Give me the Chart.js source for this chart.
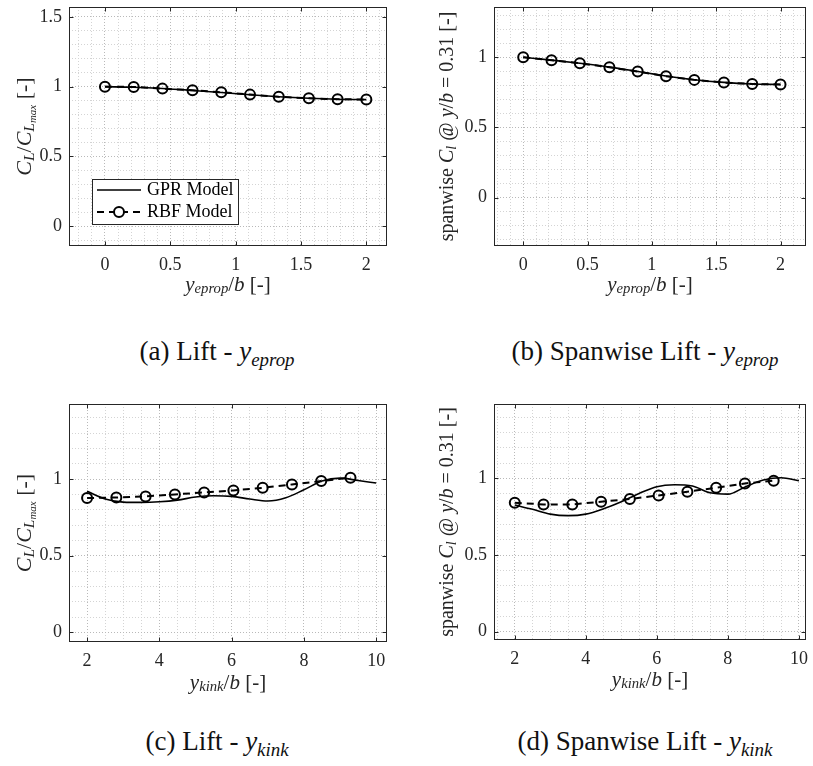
<!DOCTYPE html>
<html>
<head>
<meta charset="utf-8">
<script src="https://cdn.jsdelivr.net/npm/chart.js@4.4.0/dist/chart.umd.min.js"></script>
<style>
    body { margin: 0; background: #fff; }
    #wrap { position: relative; width: 813px; height: 766px; overflow: hidden; font-family: "Liberation Serif", "Times New Roman", serif; }
    canvas { position: absolute; }
    .cap { position: absolute; font-size: 27px; line-height: 30px; color: #111; white-space: nowrap; transform: translateX(-50%); }
    .cap sub { font-size: 0.7em; vertical-align: -0.3em; line-height: 0; }
</style>
</head>
<body>
<div id="wrap">
    <canvas id="chartA" width="400" height="300" style="left:0;top:0"></canvas>
    <canvas id="chartB" width="413" height="300" style="left:400px;top:0"></canvas>
    <canvas id="chartC" width="400" height="310" style="left:0;top:390px"></canvas>
    <canvas id="chartD" width="413" height="310" style="left:400px;top:390px"></canvas>
    <div class="cap" style="left:217px;top:336px">(a) Lift - <i>y<sub>eprop</sub></i></div>
    <div class="cap" style="left:645px;top:336px">(b) Spanwise Lift - <i>y<sub>eprop</sub></i></div>
    <div class="cap" style="left:217px;top:726px">(c) Lift - <i>y<sub>kink</sub></i></div>
    <div class="cap" style="left:645px;top:726px">(d) Spanwise Lift - <i>y<sub>kink</sub></i></div>
</div>
<script>
(function() {
    'use strict';

    // ---- data ----
    var xEprop = [0, 0.22, 0.44, 0.67, 0.89, 1.11, 1.33, 1.56, 1.78, 2];
    var liftEpropRbf = [1.0, 0.998, 0.986, 0.974, 0.96, 0.943, 0.927, 0.917, 0.91, 0.908];
    var liftEpropGpr = [1.0, 0.996, 0.987, 0.973, 0.958, 0.942, 0.928, 0.917, 0.91, 0.907];
    var spanEpropRbf = [1.0, 0.979, 0.957, 0.929, 0.898, 0.865, 0.839, 0.82, 0.81, 0.806];
    var spanEpropGpr = [1.0, 0.98, 0.957, 0.93, 0.899, 0.867, 0.84, 0.821, 0.81, 0.806];

    var xKinkRbf = [2, 2.81, 3.62, 4.43, 5.24, 6.05, 6.86, 7.67, 8.48, 9.29];
    var liftKinkRbf = [0.876, 0.88, 0.887, 0.9, 0.913, 0.926, 0.943, 0.965, 0.987, 1.009];
    var spanKinkRbf = [0.841, 0.83, 0.83, 0.848, 0.865, 0.889, 0.913, 0.939, 0.967, 0.985];

    var xKinkGpr = [2, 2.5, 3, 3.5, 4, 4.5, 5, 5.5, 6, 6.5, 7, 7.5, 8, 8.5, 9, 9.5, 10];
    var liftKinkGpr = [0.92, 0.87, 0.85, 0.848, 0.852, 0.863, 0.883, 0.891, 0.887, 0.87, 0.857, 0.878, 0.93, 0.987, 1.006, 0.991, 0.974];
    var spanKinkGpr = [0.826, 0.798, 0.767, 0.757, 0.767, 0.802, 0.848, 0.902, 0.946, 0.958, 0.95, 0.906, 0.897, 0.946, 0.989, 1.004, 0.985];

    // tick labels
    var xTicksEprop = [0, 0.5, 1, 1.5, 2];
    var xTicksKink = [2, 4, 6, 8, 10];
    var yTicksLiftEprop = [0, 0.5, 1, 1.5];
    var yTicksOther = [0, 0.5, 1];

    var FONT = '"Liberation Serif", "Times New Roman", serif';
    var AXIS_COLOR = '#262626';

    // Axis titles as [text, style] parts; style: r roman, i italic, trailing s = subscript level
    var xTitleEprop = [['y', 'i'], ['eprop', 'is'], ['/', 'r'], ['b', 'i'], [' [-]', 'r']];
    var xTitleKink = [['y', 'i'], ['kink', 'is'], ['/', 'r'], ['b', 'i'], [' [-]', 'r']];
    var yTitleLift = [['C', 'i'], ['L', 'is'], ['/', 'r'], ['C', 'i'], ['L', 'is'], ['max', 'iss'], [' [-]', 'r']];
    var yTitleSpan = [['spanwise ', 'r'], ['C', 'i'], ['l', 'is'], [' @ ', 'r'], ['y', 'i'], ['/', 'r'], ['b', 'i'], [' = 0.31', 'r'], [' [-]', 'r']];

    function toPoints(xs, ys) {
        return xs.map(function(x, i) { return { x: x, y: ys[i] }; });
    }

    function gridValues(min, max, step) {
        var out = [];
        for (var k = Math.ceil(min / step - 1e-9); k * step < max - 1e-9; k++) {
            var v = Math.round(k * step * 1000) / 1000;
            if (v > min + 1e-9) {
                out.push(v);
            }
        }
        return out;
    }

    function inList(list, v) {
        return list.some(function(t) { return Math.abs(t - v) < 1e-6; });
    }

    function richParts(ctx, parts, size) {
        return parts.map(function(p) {
            var level = (p[1].match(/s/g) || []).length;
            var fs = level === 2 ? size * 0.5 : level === 1 ? size * 0.7 : size;
            var font = (p[1].charAt(0) === 'i' ? 'italic ' : '') + fs + 'px ' + FONT;
            ctx.font = font;
            return { text: p[0], font: font, w: ctx.measureText(p[0]).width, dy: level === 2 ? size * 0.38 : level === 1 ? size * 0.22 : 0 };
        });
    }

    function drawRich(ctx, parts, size, cx, cy, rot) {
        ctx.save();
        ctx.translate(cx, cy);
        if (rot) {
            ctx.rotate(rot);
        }
        var items = richParts(ctx, parts, size);
        var total = items.reduce(function(s, it) { return s + it.w; }, 0);
        var x = -total / 2;
        ctx.fillStyle = AXIS_COLOR;
        ctx.textBaseline = 'middle';
        ctx.textAlign = 'left';
        items.forEach(function(it) {
            ctx.font = it.font;
            ctx.fillText(it.text, x, it.dy);
            x += it.w;
        });
        ctx.restore();
    }

    // Box, inward ticks, axis titles and the legend, MATLAB style
    var matlabAxes = {
        id: 'matlabAxes',
        afterDraw: function(chart, args, opts) {
            var ctx = chart.ctx;
            var a = chart.chartArea;
            var xs = chart.scales.x;
            var ys = chart.scales.y;
            var L = Math.round(a.left) + 0.5, R = Math.round(a.right) - 0.5;
            var T = Math.round(a.top) + 0.5, B = Math.round(a.bottom) - 0.5;

            ctx.save();
            ctx.strokeStyle = AXIS_COLOR;
            ctx.lineWidth = 1;
            ctx.strokeRect(L, T, R - L, B - T);

            ctx.beginPath();
            opts.xMajor.forEach(function(v) {
                var px = Math.round(xs.getPixelForValue(v)) + 0.5;
                ctx.moveTo(px, B); ctx.lineTo(px, B - 4);
                ctx.moveTo(px, T); ctx.lineTo(px, T + 4);
            });
            opts.yMajor.forEach(function(v) {
                var py = Math.round(ys.getPixelForValue(v)) + 0.5;
                ctx.moveTo(L, py); ctx.lineTo(L + 4, py);
                ctx.moveTo(R, py); ctx.lineTo(R - 4, py);
            });
            ctx.stroke();

            drawRich(ctx, opts.xTitle, 21, (a.left + a.right) / 2, a.bottom + opts.xTitleDy, 0);
            drawRich(ctx, opts.yTitle, opts.yTitleSize, opts.yTitleX, (a.top + a.bottom) / 2, -Math.PI / 2);

            if (opts.legend) {
                var lx = a.left + 23, ly = a.top + 172, lw = 146, lh = 45;
                ctx.fillStyle = '#fff';
                ctx.fillRect(lx, ly, lw, lh);
                ctx.strokeStyle = AXIS_COLOR;
                ctx.strokeRect(Math.round(lx) + 0.5, Math.round(ly) + 0.5, lw, lh);

                ctx.strokeStyle = '#000';
                ctx.lineWidth = 1.6;
                ctx.beginPath();
                ctx.moveTo(lx + 5, ly + 11); ctx.lineTo(lx + 49, ly + 11);
                ctx.stroke();

                ctx.lineWidth = 2;
                ctx.setLineDash([7, 5]);
                ctx.beginPath();
                ctx.moveTo(lx + 5, ly + 33); ctx.lineTo(lx + 49, ly + 33);
                ctx.stroke();
                ctx.setLineDash([]);
                ctx.beginPath();
                ctx.arc(lx + 27, ly + 33, 5, 0, Math.PI * 2);
                ctx.fillStyle = '#fff';
                ctx.fill();
                ctx.stroke();

                ctx.fillStyle = '#000';
                ctx.font = '18px ' + FONT;
                ctx.textBaseline = 'middle';
                ctx.fillText('GPR Model', lx + 55, ly + 11);
                ctx.fillText('RBF Model', lx + 55, ly + 33);
            }
            ctx.restore();
        }
    };

    function axisScale(cfg) {
        return {
            type: 'linear',
            min: cfg.min,
            max: cfg.max,
            bounds: 'data',
            afterBuildTicks: function(scale) {
                scale.ticks = gridValues(cfg.min, cfg.max, cfg.step).map(function(v) { return { value: v }; });
            },
            afterFit: function(scale) {
                if (cfg.width) {
                    scale.width = cfg.width;
                    scale.paddingTop = 0;
                    scale.paddingBottom = 0;
                } else {
                    scale.height = cfg.height;
                    scale.paddingLeft = 0;
                    scale.paddingRight = 0;
                }
            },
            grid: {
                drawTicks: false,
                lineWidth: 1,
                color: function(c) {
                    return c.tick && inList(cfg.major, c.tick.value) ? '#b9b9b9' : '#d4d4d4';
                }
            },
            border: { display: false, dash: [1, 2] },
            ticks: {
                autoSkip: false,
                minRotation: 0,
                maxRotation: 0,
                padding: cfg.pad,
                color: AXIS_COLOR,
                font: { family: FONT, size: 18 },
                callback: function(v) {
                    return inList(cfg.major, v) ? String(Math.round(v * 10) / 10) : '';
                }
            }
        };
    }

    function makeChart(id, cfg) {
        return new Chart(document.getElementById(id), {
            type: 'line',
            data: {
                datasets: [
                    {
                        label: 'RBF Model',
                        data: toPoints(cfg.rbfX, cfg.rbfY),
                        order: 0,
                        borderColor: '#000',
                        borderWidth: 2,
                        borderDash: [7, 5],
                        pointRadius: 5,
                        pointBorderWidth: 2,
                        pointBorderColor: '#000',
                        pointBackgroundColor: 'rgba(255,255,255,0)',
                        tension: 0
                    },
                    {
                        label: 'GPR Model',
                        data: toPoints(cfg.gprX, cfg.gprY),
                        order: 1,
                        borderColor: '#000',
                        borderWidth: 1.6,
                        pointRadius: 0,
                        cubicInterpolationMode: 'monotone'
                    }
                ]
            },
            options: {
                responsive: false,
                devicePixelRatio: 1,
                animation: false,
                events: [],
                layout: { padding: { left: 0, top: cfg.padTop, right: cfg.padRight, bottom: 0 } },
                scales: {
                    x: axisScale({ min: cfg.xMin, max: cfg.xMax, step: cfg.xStep, major: cfg.xMajor, height: cfg.xh, pad: 8 }),
                    y: axisScale({ min: cfg.yMin, max: cfg.yMax, step: 0.1, major: cfg.yMajor, width: cfg.yw, pad: 7 })
                },
                plugins: {
                    legend: { display: false },
                    tooltip: { enabled: false },
                    matlabAxes: {
                        xMajor: cfg.xMajor,
                        yMajor: cfg.yMajor,
                        xTitle: cfg.xTitle,
                        yTitle: cfg.yTitle,
                        yTitleSize: cfg.yTitleSize,
                        xTitleDy: cfg.xTitleDy,
                        yTitleX: cfg.yTitleX,
                        legend: !!cfg.legend
                    }
                }
            },
            plugins: [matlabAxes]
        });
    }

    makeChart('chartA', {
        rbfX: xEprop, rbfY: liftEpropRbf, gprX: xEprop, gprY: liftEpropGpr,
        xMin: -0.275, xMax: 2.158, xStep: 0.1, xMajor: xTicksEprop,
        yMin: -0.142, yMax: 1.571, yMajor: yTicksLiftEprop,
        padTop: 5, padRight: 13, yw: 69, xh: 54,
        xTitle: xTitleEprop, yTitle: yTitleLift, yTitleSize: 22, xTitleDy: 39, yTitleX: 25, legend: true
    });

    makeChart('chartB', {
        rbfX: xEprop, rbfY: spanEpropRbf, gprX: xEprop, gprY: spanEpropGpr,
        xMin: -0.227, xMax: 2.198, xStep: 0.1, xMajor: xTicksEprop,
        yMin: -0.344, yMax: 1.358, yMajor: yTicksOther,
        padTop: 7, padRight: 1, yw: 94, xh: 54,
        xTitle: xTitleEprop, yTitle: yTitleSpan, yTitleSize: 20, xTitleDy: 39, yTitleX: 48
    });

    makeChart('chartC', {
        rbfX: xKinkRbf, rbfY: liftKinkRbf, gprX: xKinkGpr, gprY: liftKinkGpr,
        xMin: 1.5, xMax: 10.3, xStep: 0.5, xMajor: xTicksKink,
        yMin: -0.063, yMax: 1.49, yMajor: yTicksOther,
        padTop: 14, padRight: 13, yw: 69, xh: 58,
        xTitle: xTitleKink, yTitle: yTitleLift, yTitleSize: 22, xTitleDy: 41, yTitleX: 25
    });

    makeChart('chartD', {
        rbfX: xKinkRbf, rbfY: spanKinkRbf, gprX: xKinkGpr, gprY: spanKinkGpr,
        xMin: 1.415, xMax: 10.2, xStep: 0.5, xMajor: xTicksKink,
        yMin: -0.054, yMax: 1.485, yMajor: yTicksOther,
        padTop: 14, padRight: 4, yw: 94, xh: 60,
        xTitle: xTitleKink, yTitle: yTitleSpan, yTitleSize: 20, xTitleDy: 40, yTitleX: 48
    });
})();
</script>
</body>
</html>
